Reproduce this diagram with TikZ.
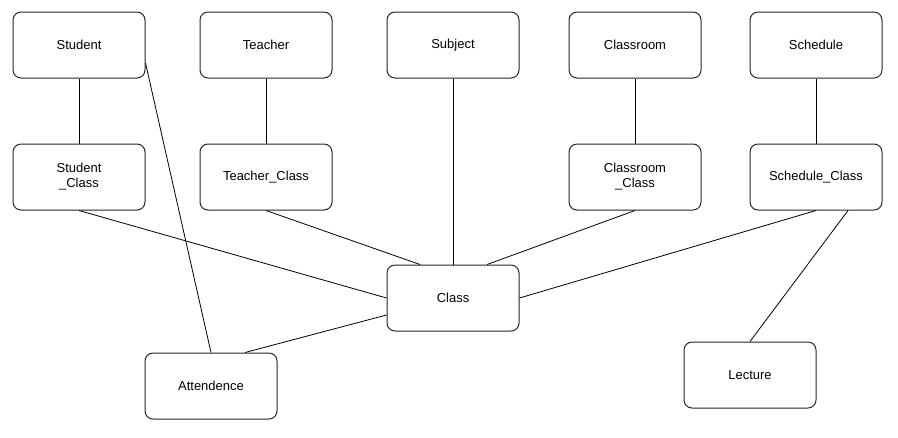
\documentclass[tikz,border=0pt]{standalone}
\usepackage{fontspec}
\setmainfont{Liberation Sans}
\usepackage{tikz}
\usetikzlibrary{positioning, calc}
\tikzstyle{entity} = [rectangle, draw=black!85, line width=0.75pt, fill=white, align=center, rounded corners=6pt, minimum width=99pt, minimum height=49.5pt, font=\fontsize{9.75}{11.25}\selectfont]
\tikzstyle{link} = [line width=0.6pt, black]

\begin{document}
\begin{tikzpicture}[x=0.75pt, y=-0.75pt]
    \useasboundingbox (0,0) rectangle (898,437);
    % top row
    \node[entity] (student) at (79,45) {Student};
    \node[entity] (teacher) at (266,45) {Teacher};
    \node[entity] (subject) at (453,45) {Subject};
    \node[entity] (classroom) at (635,45) {Classroom};
    \node[entity] (schedule) at (816,45) {Schedule};
    % link tables
    \node[entity] (studentcls) at (79,177) {Student\\\_Class};
    \node[entity] (teachercls) at (266,177) {Teacher\_Class};
    \node[entity] (classroomcls) at (635,177) {Classroom\\\_Class};
    \node[entity] (schedulecls) at (816,177) {Schedule\_Class};
    % bottom
    \node[entity] (class) at (453,298) {Class};
    \node[entity] (attend) at (211,386) {Attendence};
    \node[entity] (lecture) at (750,375) {Lecture};

    \draw[link] (student) -- (studentcls);
    \draw[link] (teacher) -- (teachercls);
    \draw[link] (classroom) -- (classroomcls);
    \draw[link] (schedule) -- (schedulecls);
    \draw[link] (subject) -- (class);
    \draw[link] ([yshift=-13.5pt]student.east) -- (attend.north);
    \draw[link] (studentcls.south) -- (class.west);
    \draw[link] (teachercls.south) -- ([xshift=-24.75pt]class.north);
    \draw[link] (classroomcls.south) -- ([xshift=25.5pt]class.north);
    \draw[link] (schedulecls.south) -- (class.east);
    \draw[link] ([yshift=-12.75pt]class.west) -- ([xshift=25.5pt]attend.north);
    \draw[link] ([xshift=24pt]schedulecls.south) -- (lecture.north);
\end{tikzpicture}
\end{document}
